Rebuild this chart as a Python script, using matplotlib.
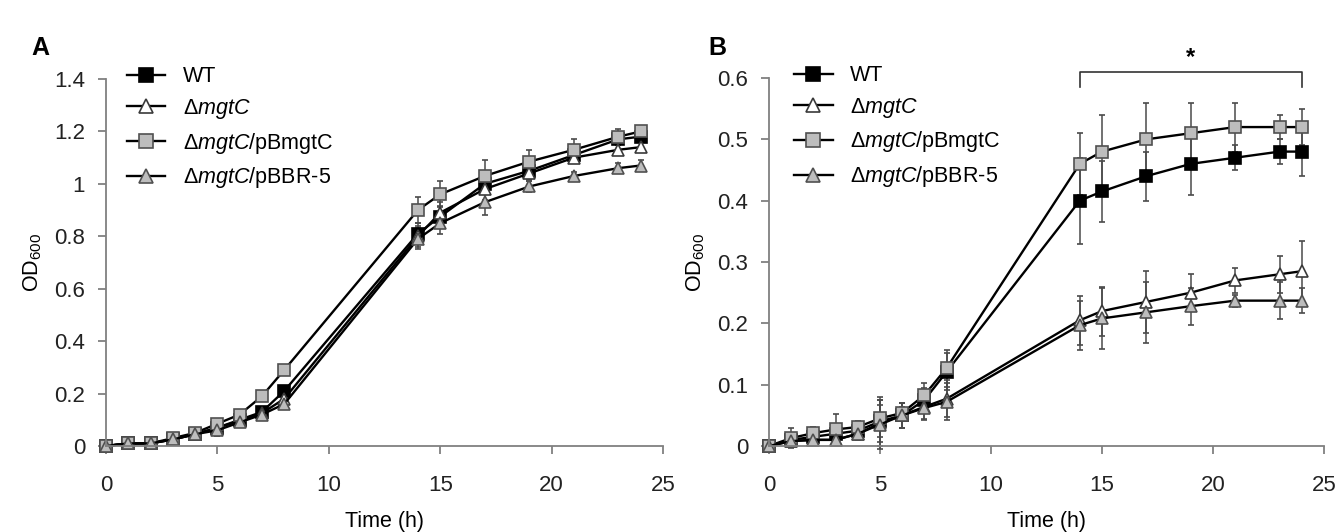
import matplotlib
matplotlib.use('Agg')
import matplotlib.pyplot as plt
import numpy as np

plt.rcParams['font.family'] = ['Liberation Sans', 'DejaVu Sans']
plt.rcParams['mathtext.fontset'] = 'custom'
plt.rcParams['mathtext.rm'] = 'Liberation Sans'
plt.rcParams['mathtext.it'] = 'Liberation Sans:italic'
plt.rcParams['mathtext.default'] = 'regular'

# Sample times (h)
time = [0, 1, 2, 3, 4, 5, 6, 7, 8, 14, 15, 17, 19, 21, 23, 24]

labels = ['WT', r'Δ$\mathit{mgtC}$', r'Δ$\mathit{mgtC}$/pBmgtC', r'Δ$\mathit{mgtC}$/pBBR-5']

# Panel A
a_wt = [0, 0.01, 0.01, 0.025, 0.045, 0.07, 0.10, 0.13, 0.21, 0.81, 0.875, 1.00, 1.05, 1.11, 1.17, 1.18]
a_mgtc = [0, 0.01, 0.01, 0.025, 0.045, 0.07, 0.095, 0.125, 0.18, 0.80, 0.89, 0.98, 1.04, 1.10, 1.13, 1.14]
a_pbm = [0, 0.01, 0.01, 0.03, 0.05, 0.085, 0.12, 0.19, 0.29, 0.90, 0.96, 1.03, 1.085, 1.13, 1.18, 1.20]
a_pbbr = [0, 0.01, 0.01, 0.025, 0.045, 0.06, 0.09, 0.12, 0.16, 0.79, 0.85, 0.93, 0.99, 1.03, 1.06, 1.07]
a_wt_err = [0.005, 0.005, 0.005, 0.01, 0.01, 0.03, 0.01, 0.015, 0.02, 0.04, 0.04, 0.04, 0.03, 0.02, 0.02, 0.02]
a_mgtc_err = [0.005, 0.005, 0.005, 0.01, 0.01, 0.02, 0.01, 0.015, 0.02, 0.04, 0.04, 0.04, 0.03, 0.02, 0.02, 0.02]
a_pbm_err = [0.005, 0.005, 0.005, 0.01, 0.01, 0.015, 0.01, 0.015, 0.02, 0.05, 0.05, 0.06, 0.045, 0.04, 0.03, 0.02]
a_pbbr_err = [0.005, 0.005, 0.005, 0.02, 0.01, 0.02, 0.01, 0.015, 0.02, 0.04, 0.04, 0.05, 0.02, 0.015, 0.02, 0.02]

# Panel B
b_wt = [0, 0.01, 0.015, 0.02, 0.025, 0.04, 0.05, 0.075, 0.121, 0.40, 0.415, 0.44, 0.46, 0.47, 0.48, 0.48]
b_mgtc = [0, 0.008, 0.01, 0.01, 0.02, 0.037, 0.05, 0.064, 0.077, 0.205, 0.22, 0.235, 0.25, 0.27, 0.28, 0.285]
b_pbm = [0, 0.013, 0.021, 0.027, 0.031, 0.045, 0.054, 0.083, 0.127, 0.46, 0.48, 0.50, 0.51, 0.52, 0.52, 0.52]
b_pbbr = [0, 0.008, 0.01, 0.01, 0.02, 0.035, 0.05, 0.062, 0.072, 0.197, 0.208, 0.218, 0.228, 0.237, 0.237, 0.237]
b_wt_err = [0.005, 0.01, 0.01, 0.015, 0.01, 0.04, 0.02, 0.02, 0.03, 0.07, 0.05, 0.04, 0.05, 0.02, 0.02, 0.04]
b_mgtc_err = [0.005, 0.01, 0.01, 0.01, 0.01, 0.03, 0.02, 0.02, 0.03, 0.04, 0.04, 0.05, 0.03, 0.02, 0.03, 0.05]
b_pbm_err = [0.005, 0.017, 0.01, 0.025, 0.01, 0.03, 0.01, 0.02, 0.03, 0.05, 0.06, 0.06, 0.05, 0.04, 0.02, 0.03]
b_pbbr_err = [0.005, 0.01, 0.01, 0.01, 0.01, 0.04, 0.02, 0.02, 0.03, 0.04, 0.05, 0.05, 0.03, 0.01, 0.03, 0.02]

styles = [
    dict(marker='s', mfc='black', mec='black'),
    dict(marker='^', mfc='white', mec='#3a3a3a'),
    dict(marker='s', mfc='#bdbdbd', mec='#505050'),
    dict(marker='^', mfc='#bdbdbd', mec='#505050'),
]

fig = plt.figure(figsize=(13.42, 5.32), dpi=100)
axA = fig.add_axes([106 / 1342, 86 / 532, 557 / 1342, 367 / 532])
axB = fig.add_axes([769 / 1342, 86 / 532, 555 / 1342, 368 / 532])


def draw(ax, series, errs, ymax, ystep, legx):
    for y, e, st, lab in zip(series, errs, styles, labels):
        ax.errorbar(time, y, yerr=e, color='black', lw=1.7, ms=8.5, mew=1.2,
                    ecolor='#4a4a4a', elinewidth=1.1, capsize=2.5, capthick=1.1,
                    label=lab, clip_on=False, **st)
    ax.set_xlim(0, 25)
    ax.set_ylim(0, ymax)
    ax.set_xticks(np.arange(0, 26, 5))
    yt = np.round(np.arange(0, ymax + 1e-9, ystep), 2)
    ax.set_yticks(yt)
    ax.set_yticklabels(['%g' % v for v in yt])
    for s in ['top', 'right']:
        ax.spines[s].set_visible(False)
    for s in ['left', 'bottom']:
        ax.spines[s].set_color('#808080')
        ax.spines[s].set_linewidth(1.3)
    ax.tick_params(axis='both', direction='out', length=6, width=1.3, color='#808080',
                   labelsize=16, labelcolor='#222222')
    ax.tick_params(axis='x', pad=15)
    ax.tick_params(axis='y', pad=9)
    ax.set_xlabel('Time (h)', fontsize=15.5, labelpad=11)
    ax.set_ylabel('OD$_{600}$', fontsize=15.5, labelpad=7)
    h, l = ax.get_legend_handles_labels()
    h = [hh[0] for hh in h]
    ax.legend(h, l, loc='upper left', bbox_to_anchor=(legx, 1.035), frameon=False,
              fontsize=15.5, handlelength=1.8, handletextpad=0.8, labelspacing=0.45,
              borderpad=0, borderaxespad=0, markerscale=1.2)


draw(axA, [a_wt, a_mgtc, a_pbm, a_pbbr], [a_wt_err, a_mgtc_err, a_pbm_err, a_pbbr_err], 1.4, 0.2, 0.037)
draw(axB, [b_wt, b_mgtc, b_pbm, b_pbbr], [b_wt_err, b_mgtc_err, b_pbm_err, b_pbbr_err], 0.6, 0.1, 0.045)

# significance bracket
axB.plot([14, 14, 24, 24], [0.585, 0.61, 0.61, 0.585], color='#333333', lw=1.2, clip_on=False)
axB.text(19, 0.615, '*', ha='center', va='bottom', fontsize=17, fontweight='bold')

fig.text(40 / 1342, 1 - 48 / 532, 'A', fontsize=18, fontweight='bold', va='center', ha='center')
fig.text(717 / 1342, 1 - 48 / 532, 'B', fontsize=18, fontweight='bold', va='center', ha='center')

fig.savefig('out.png', dpi=100)
